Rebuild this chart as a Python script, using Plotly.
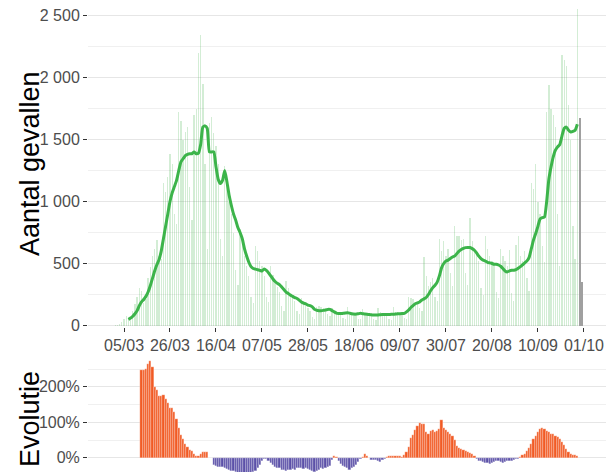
import pandas as pd
import plotly.graph_objects as go

# ---------------- data ----------------
cases_start = "2020-03-01"
daily_cases = [
    2,
    8, 15, 25, 50, 75, 60, 70,
    120, 170, 230, 300, 280, 180, 210,
    380, 470, 560, 620, 690, 560, 540,
    1150, 1080, 1200, 1380, 1300, 900, 820,
    1720, 1650, 1500, 1560, 1600, 1120, 850,
    1700, 1750, 2200, 2340, 1950, 1300, 620,
    1630, 1680, 1550, 1450, 1300, 700, 560,
    1290, 1150, 1000, 900, 750, 450, 330,
    780, 650, 560, 480, 400, 230, 180,
    640, 600, 520, 480, 400, 230, 190,
    480, 410, 350, 310, 270, 160, 120,
    360, 300, 260, 240, 200, 120, 90,
    220, 200, 160, 140, 120, 70, 55,
    150, 160, 150, 140, 130, 90, 80,
    140, 120, 110, 100, 95, 60, 50,
    150, 110, 100, 95, 90, 55, 50,
    130, 100, 95, 90, 80, 50, 45,
    140, 105, 100, 90, 85, 50, 45,
    150, 110, 105, 100, 95, 60, 55,
    230, 220, 210, 190, 200, 140, 120,
    550, 400, 320, 350, 380, 230, 200,
    700, 600, 680, 560, 620, 420, 320,
    800, 720, 720, 690, 700, 420, 330,
    870, 680, 620, 570, 520, 300, 250,
    720, 620, 560, 520, 500, 270, 220,
    620, 560, 520, 480, 610, 260, 200,
    650, 720, 560, 520, 600, 380, 280,
    1150, 1100, 1300, 1000, 900, 640, 510,
    1720, 1940, 1750, 1700, 1600, 900, 480,
    2180, 2140, 2090, 1780, 1500, 800, 540,
    2550, 1670, 350,
]
n_incomplete_days = 2

avg_start = "2020-03-07"
avg_7d = [
    # March 7-31
    50, 60, 75, 95, 120, 160, 190, 210, 235, 270, 320, 380, 440, 490, 530,
    600, 700, 800, 900, 1000, 1070, 1120, 1170, 1250, 1320,
    # April
    1345, 1370, 1380, 1385, 1385, 1400, 1385, 1390, 1460, 1600,
    1610, 1590, 1400, 1400, 1400, 1280, 1180, 1145, 1170, 1250,
    1160, 1050, 970, 900, 850, 790, 750, 700, 620, 560,
    # May
    510, 475, 460, 455, 450, 445, 440, 455, 445, 425,
    400, 375, 355, 340, 330, 310, 290, 270, 258, 245,
    235, 225, 218, 205, 190, 180, 175, 165, 160, 150, 130,
    # June
    123, 120, 120, 122, 125, 130, 130, 120, 110, 100,
    97, 96, 98, 100, 102, 100, 95, 92, 92, 95,
    98, 95, 92, 90, 88, 86, 84, 84, 85, 87,
    # July
    88, 88, 88, 88, 90, 90, 92, 95, 95, 96,
    98, 110, 125, 145, 160, 175, 182, 190, 205, 215,
    226, 250, 280, 305, 325, 350, 400, 465, 500, 520, 527,
    # August
    540, 552, 560, 580, 600, 613, 622, 628, 630, 629,
    620, 607, 585, 560, 540, 527, 520, 510, 505, 500,
    494, 494, 488, 478, 460, 440, 432, 440, 445, 445, 450,
    # September 1-28
    462, 475, 490, 505, 521, 550, 620, 690, 742, 800,
    860, 870, 875, 1000, 1180, 1279, 1360, 1414, 1440, 1460,
    1530, 1589, 1600, 1575, 1561, 1565, 1575, 1623,
]

evol_start = "2020-03-13"
evolution_pct = [
    # March 13-31
    248, 248, 250, 265, 273, 255, 200, 190, 175, 173,
    178, 165, 155, 141, 140, 128, 110, 85, 65,
    # April
    52, 40, 30, 22, 20, 12, 6, 5, 10, 15,
    16, 15, 0, -1, -20, -24, -25, -27, -27, -29,
    -31, -33, -36, -38, -40, -42, -44, -44, -45, -44,
    # May
    -43, -42, -40, -38, -30, -20, -10, -3, -2, -8,
    -15, -20, -25, -28, -30, -33, -35, -36, -35, -34,
    -32, -33, -30, -28, -30, -32, -30, -32, -35, -38, -40,
    # June
    -36, -34, -30, -32, -28, -25, -22, -5, 4, 2,
    -10, -18, -22, -26, -30, -33, -30, -25, -20, -12,
    -4, 2, 10, 6, 0, -5, -6, -7, -8, -11,
    # July
    -6, -3, 2, 4, 5, 5, 4, 6, 5, 3,
    8, 15, 30, 55, 65, 78, 90, 97, 95, 96,
    72, 68, 76, 78, 74, 76, 80, 106, 85, 78, 72,
    # August
    68, 62, 50, 33, 27, 24, 22, 18, 16, 14,
    10, 6, -4, -8, -10, -12, -14, -16, -18, -15,
    -12, -10, -9, -12, -14, -13, -10, -9, -8, -6, -3,
    # September 1-28
    -2, 3, 8, 12, 18, 28, 40, 52, 62, 72,
    80, 83, 80, 76, 72, 68, 66, 62, 58, 52,
    45, 35, 25, 15, 10, 8, 7, 6,
]

x_tick_dates = ["2020-03-05", "2020-03-26", "2020-04-16", "2020-05-07", "2020-05-28",
                "2020-06-18", "2020-07-09", "2020-07-30", "2020-08-20", "2020-09-10",
                "2020-10-01"]
x_tick_labels = ["05/03", "26/03", "16/04", "07/05", "28/05", "18/06", "09/07",
                 "30/07", "20/08", "10/09", "01/10"]
y_tick_vals = [0, 500, 1000, 1500, 2000, 2500]
y_tick_labels = ["0", "500", "1 000", "1 500", "2 000", "2 500"]
y_minor_vals = [250, 750, 1250, 1750, 2250]
evo_tick_vals = [0, 100, 200]
evo_tick_labels = ["0%", "100%", "200%"]
evo_minor_vals = [50, 150, 250]

# ---------------- figure ----------------
case_dates = pd.date_range(cases_start, periods=len(daily_cases), freq="D")
avg_dates = pd.date_range(avg_start, periods=len(avg_7d), freq="D")
evo_dates = pd.date_range(evol_start, periods=len(evolution_pct), freq="D")

n_done = len(daily_cases) - n_incomplete_days
DAY_MS = 86400000

W, H = 606, 472
fig = go.Figure()

fig.add_trace(go.Bar(
    x=case_dates[:n_done], y=daily_cases[:n_done],
    width=0.6 * DAY_MS, marker=dict(color="rgba(70,180,80,0.24)", line=dict(width=0)),
    xaxis="x", yaxis="y", showlegend=False, hoverinfo="skip"))
fig.add_trace(go.Bar(
    x=case_dates[n_done:], y=daily_cases[n_done:],
    width=0.45 * DAY_MS, marker=dict(color="#a0a0a0", line=dict(width=0)),
    xaxis="x", yaxis="y", showlegend=False, hoverinfo="skip"))
fig.add_trace(go.Scatter(
    x=avg_dates, y=avg_7d, mode="lines",
    line=dict(color="#3cb44a", width=3, shape="spline", smoothing=0.5),
    xaxis="x", yaxis="y", showlegend=False, hoverinfo="skip"))

evo_colors = ["#f15a24" if v >= 0 else "#5b50a8" for v in evolution_pct]
fig.add_trace(go.Bar(
    x=evo_dates, y=evolution_pct, width=DAY_MS,
    marker=dict(color=evo_colors, line=dict(width=0.35, color="rgba(255,255,255,0.8)")),
    xaxis="x2", yaxis="y2", showlegend=False, hoverinfo="skip"))

left_px, right_px = 88, 606
tick0 = pd.Timestamp("2020-03-05")
px_per_day = 2.19
x_lo = tick0 - pd.Timedelta(days=(124 - left_px) / px_per_day)
x_hi = tick0 + pd.Timedelta(days=(right_px - 124) / px_per_day)

top_bottom_px = 327
bot_top_px = 357

tick_font = dict(family="Liberation Sans, Arial, sans-serif", size=16, color="#4d4d4d")
grid_major = "#e6e6e6"
grid_minor = "#f0f0f0"

fig.update_layout(
    width=W, height=H,
    margin=dict(l=left_px, r=W - right_px, t=0, b=0, autoexpand=False),
    paper_bgcolor="white", plot_bgcolor="white",
    bargap=0, barmode="overlay",
    xaxis=dict(domain=[0, 1], type="date", range=[x_lo, x_hi], automargin=False,
               tickmode="array", tickvals=x_tick_dates, ticktext=x_tick_labels,
               ticks="outside", ticklen=4, tickwidth=1, tickcolor="#333333",
               tickfont=tick_font, showgrid=False, zeroline=False, showline=False,
               anchor="y"),
    yaxis=dict(domain=[(H - top_bottom_px) / H, 1], range=[-12, 2625], automargin=False,
               tickmode="array", tickvals=y_tick_vals, ticktext=y_tick_labels,
               ticks="outside", ticklen=4, tickwidth=1, tickcolor="#333333",
               tickfont=tick_font, showgrid=True, gridcolor=grid_major, gridwidth=1,
               minor=dict(tickmode="array", tickvals=y_minor_vals, showgrid=True,
                          gridcolor=grid_minor, gridwidth=1, ticks=""),
               zeroline=False, showline=False, anchor="x"),
    xaxis2=dict(domain=[0, 1], type="date", range=[x_lo, x_hi], matches="x",
                automargin=False,
                showticklabels=False, ticks="", showgrid=False, zeroline=False,
                showline=False, anchor="y2"),
    yaxis2=dict(domain=[0, (H - bot_top_px) / H], range=[-40, 284], automargin=False,
                tickmode="array", tickvals=evo_tick_vals, ticktext=evo_tick_labels,
                ticks="outside", ticklen=4, tickwidth=1, tickcolor="#333333",
                tickfont=tick_font, showgrid=True, gridcolor=grid_major, gridwidth=1,
                minor=dict(tickmode="array", tickvals=evo_minor_vals, showgrid=True,
                           gridcolor=grid_minor, gridwidth=1, ticks=""),
                zeroline=False, showline=False, anchor="x2"),
)

title_font = dict(family="Liberation Sans, Arial, sans-serif", size=27, color="black")
pw = right_px - left_px
fig.add_annotation(text="Aantal gevallen", textangle=-90, font=title_font,
                   xref="paper", yref="paper", x=(30 - left_px) / pw, y=(H - 164) / H,
                   xanchor="center", yanchor="middle", showarrow=False)
fig.add_annotation(text="Evolutie", textangle=-90, font=title_font,
                   xref="paper", yref="paper", x=(30 - left_px) / pw, y=(H - 419) / H,
                   xanchor="center", yanchor="middle", showarrow=False)

fig.write_html("out.html", config={"displayModeBar": False},
               post_script="document.body.style.margin='0';document.body.style.padding='0';")
